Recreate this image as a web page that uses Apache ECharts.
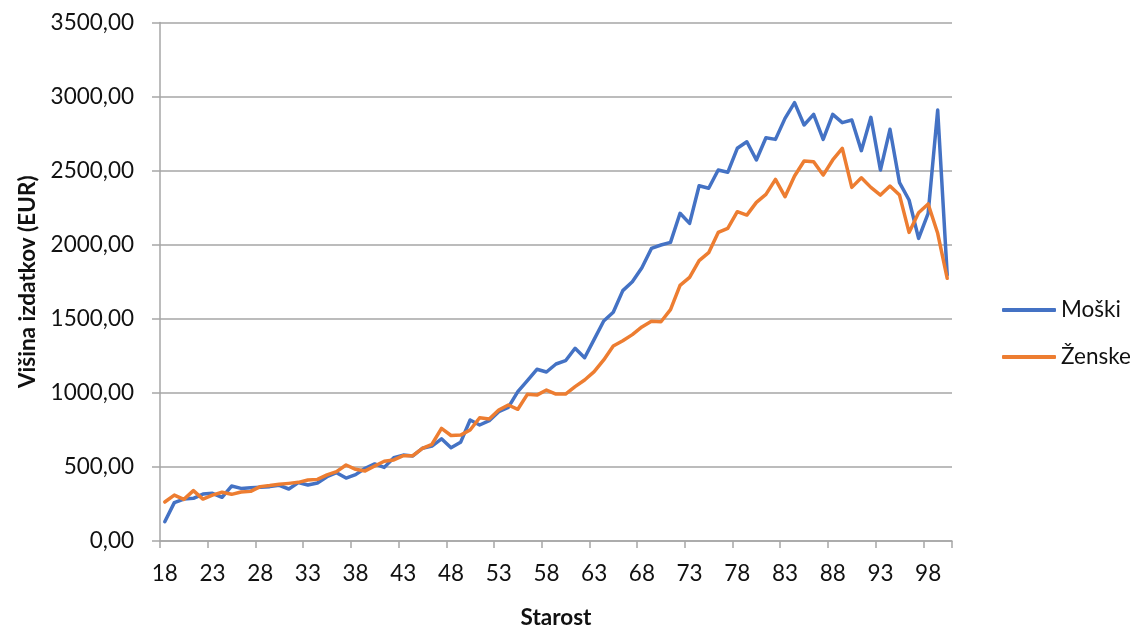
<!DOCTYPE html>
<html>
<head>
<meta charset="utf-8">
<script src="https://cdn.jsdelivr.net/npm/echarts@6/dist/echarts.min.js"></script>
<style>
html,body{margin:0;padding:0;background:#fff;}
#chart{width:1137px;height:627px;}
</style>
</head>
<body>
<div id="chart"></div>
<script>
const ages = [18,19,20,21,22,23,24,25,26,27,28,29,30,31,32,33,34,35,36,37,38,39,40,41,42,43,44,45,46,47,48,49,50,51,52,53,54,55,56,57,58,59,60,61,62,63,64,65,66,67,68,69,70,71,72,73,74,75,76,77,78,79,80,81,82,83,84,85,86,87,88,89,90,91,92,93,94,95,96,97,98,99,100];
const moski = [130,259,283,288,317,322,295,371,355,360,362,367,376,351,394,378,391,434,461,425,448,491,520,497,562,580,574,626,641,690,630,666,817,783,812,873,902,1008,1082,1159,1141,1195,1217,1301,1237,1361,1485,1544,1690,1750,1845,1975,1998,2016,2212,2144,2398,2381,2504,2489,2651,2695,2572,2722,2711,2853,2959,2808,2880,2711,2880,2824,2842,2635,2860,2504,2779,2419,2302,2043,2212,2909,1795];
const zenske = [263,310,281,340,283,310,329,315,331,335,367,374,383,389,396,412,416,446,468,513,484,473,506,538,547,576,576,626,653,760,712,715,749,832,823,884,918,889,990,985,1019,992,992,1042,1087,1143,1222,1316,1352,1393,1445,1484,1480,1562,1725,1780,1892,1946,2083,2111,2223,2200,2286,2340,2441,2324,2464,2565,2560,2470,2572,2651,2387,2452,2387,2335,2396,2335,2083,2216,2275,2077,1773];
const seriesNames = ['Moški', 'Ženske'];
const yTitle = 'Višina izdatkov (EUR)';
const xTitle = 'Starost';

const FONT = 'Lato';
const TXT = '#111';
const chart = echarts.init(document.getElementById('chart'), null, {renderer: 'canvas'});
chart.setOption({
  animation: false,
  backgroundColor: '#fff',
  textStyle: {fontFamily: FONT},
  grid: {left: 160, right: 185, top: 22.5, bottom: 86, containLabel: false, outerBoundsMode: 'none'},
  legend: {
    orient: 'vertical', left: 997, top: 292,
    itemWidth: 54, itemHeight: 4, itemGap: 21,
    icon: 'roundRect',
    textStyle: {fontFamily: FONT, fontSize: 22.5, color: TXT, lineHeight: 26},
    data: seriesNames
  },
  xAxis: {
    type: 'category', data: ages, boundaryGap: true,
    name: xTitle, nameLocation: 'middle', nameGap: 65,
    nameTextStyle: {fontFamily: FONT, fontSize: 22.5, fontWeight: 'bold', color: TXT},
    axisLine: {show: true, lineStyle: {color: '#a6a6a6', width: 1.5}},
    axisTick: {show: true, interval: 4, length: 7, lineStyle: {color: '#a6a6a6', width: 1.5}},
    axisLabel: {interval: 4, margin: 21, fontFamily: FONT, fontSize: 22.5, color: TXT},
    splitLine: {show: false}
  },
  yAxis: {
    type: 'value', min: 0, max: 3500, interval: 500,
    name: yTitle, nameLocation: 'middle', nameGap: 121, nameRotate: 90,
    nameTextStyle: {fontFamily: FONT, fontSize: 22.5, fontWeight: 'bold', color: TXT},
    axisLine: {show: true, lineStyle: {color: '#a6a6a6', width: 1.5}},
    axisTick: {show: true, length: 8, lineStyle: {color: '#a6a6a6', width: 1.5}},
    axisLabel: {margin: 26, fontFamily: FONT, fontSize: 22.5, color: TXT,
      formatter: v => v.toFixed(2).replace('.', ',')},
    splitLine: {show: true, lineStyle: {color: '#a6a6a6', width: 1.5}}
  },
  series: [
    {name: seriesNames[0], type: 'line', data: moski, symbol: 'none', smooth: false,
     lineStyle: {color: '#4472C4', width: 3.5, cap: 'round', join: 'round'}, itemStyle: {color: '#4472C4'}},
    {name: seriesNames[1], type: 'line', data: zenske, symbol: 'none', smooth: false,
     lineStyle: {color: '#ED7D31', width: 3.5, cap: 'round', join: 'round'}, itemStyle: {color: '#ED7D31'}}
  ]
});
</script>
</body>
</html>
